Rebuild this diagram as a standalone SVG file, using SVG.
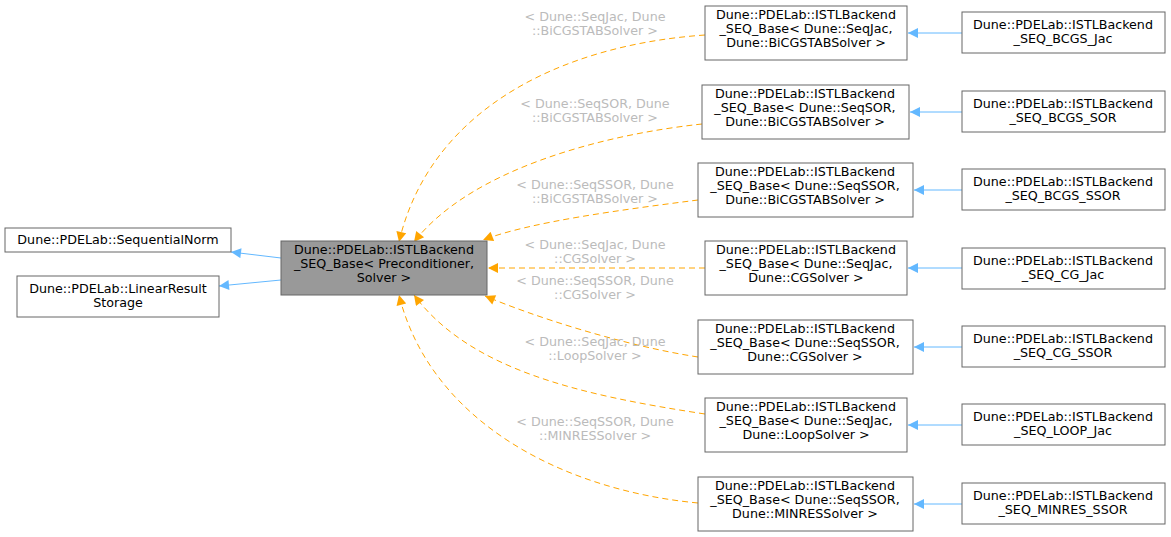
<svg xmlns="http://www.w3.org/2000/svg" width="1171" height="537" viewBox="0 0 1171 537">
<style>
text{font-family:"DejaVu Sans",sans-serif;font-size:12.7px;text-anchor:middle}
.n{fill:#fff;stroke:#666;stroke-width:1}
.c{fill:#999;stroke:#666}
.o{fill:none;stroke:#ffa500;stroke-dasharray:6,4}
.b{fill:none;stroke:#63b8ff}
.l{fill:#bbb}
</style>
<defs>
<marker id="ao" viewBox="0 0 10 10" refX="10" refY="5" markerWidth="12" markerHeight="10" markerUnits="userSpaceOnUse" orient="auto"><path d="M0,0L10,5L0,10z" fill="#ffa500"/></marker>
<marker id="ab" viewBox="0 0 10 10" refX="10" refY="5" markerWidth="12" markerHeight="10" markerUnits="userSpaceOnUse" orient="auto"><path d="M0,0L10,5L0,10z" fill="#63b8ff"/></marker>
</defs>
<rect width="1171" height="537" fill="#fff"/>
<g id="edges">
<path class="o" marker-end="url(#ao)" d="M705,35C560,45 430,110 399,242"/>
<path class="o" marker-end="url(#ao)" d="M702,124C600,135 470,170 414,242"/>
<path class="o" marker-end="url(#ao)" d="M698,200C620,210 530,222 483,240"/>
<path class="o" marker-end="url(#ao)" d="M705,268L488,268"/>
<path class="o" marker-end="url(#ao)" d="M698,357C620,345 530,315 485,296"/>
<path class="o" marker-end="url(#ao)" d="M705,414C580,395 470,370 414,295"/>
<path class="o" marker-end="url(#ao)" d="M698,503C560,490 430,420 399,295"/>
<path class="b" marker-end="url(#ab)" d="M281,258L231,252"/>
<path class="b" marker-end="url(#ab)" d="M281,280L219,286"/>
<path class="b" marker-end="url(#ab)" d="M962,33L908,33"/>
<path class="b" marker-end="url(#ab)" d="M962,112L910,112"/>
<path class="b" marker-end="url(#ab)" d="M962,190L914,190"/>
<path class="b" marker-end="url(#ab)" d="M962,268L908,268"/>
<path class="b" marker-end="url(#ab)" d="M962,347L914,347"/>
<path class="b" marker-end="url(#ab)" d="M962,425L908,425"/>
<path class="b" marker-end="url(#ab)" d="M962,504L914,504"/>
<text class="l" x="595" y="21">&lt; Dune::SeqJac, Dune</text><text class="l" x="595" y="35">::BiCGSTABSolver &gt;</text>
<text class="l" x="595" y="108">&lt; Dune::SeqSOR, Dune</text><text class="l" x="595" y="122">::BiCGSTABSolver &gt;</text>
<text class="l" x="595" y="189">&lt; Dune::SeqSSOR, Dune</text><text class="l" x="595" y="203">::BiCGSTABSolver &gt;</text>
<text class="l" x="595" y="249">&lt; Dune::SeqJac, Dune</text><text class="l" x="595" y="263">::CGSolver &gt;</text>
<text class="l" x="595" y="285">&lt; Dune::SeqSSOR, Dune</text><text class="l" x="595" y="299">::CGSolver &gt;</text>
<text class="l" x="595" y="346">&lt; Dune::SeqJac, Dune</text><text class="l" x="595" y="360">::LoopSolver &gt;</text>
<text class="l" x="595" y="426">&lt; Dune::SeqSSOR, Dune</text><text class="l" x="595" y="440">::MINRESSolver &gt;</text>
</g>
<g id="base"><rect class="c" x="281" y="241" width="206" height="54"/><text x="384" y="254">Dune::PDELab::ISTLBackend</text><text x="384" y="268">_SEQ_Base&lt; Preconditioner,</text><text x="384" y="282">Solver &gt;</text></g>
<g id="seqnorm"><rect class="n" x="5" y="228" width="226" height="24"/><text x="118" y="244">Dune::PDELab::SequentialNorm</text></g>
<g id="lrs"><rect class="n" x="17" y="276" width="202" height="41"/><text x="118" y="293">Dune::PDELab::LinearResult</text><text x="118" y="307">Storage</text></g>
<g id="m1"><rect class="n" x="705" y="6" width="202" height="54"/><text x="806" y="19">Dune::PDELab::ISTLBackend</text><text x="806" y="33">_SEQ_Base&lt; Dune::SeqJac,</text><text x="806" y="47">Dune::BiCGSTABSolver &gt;</text></g>
<g id="m2"><rect class="n" x="702" y="85" width="207" height="54"/><text x="805" y="98">Dune::PDELab::ISTLBackend</text><text x="805" y="112">_SEQ_Base&lt; Dune::SeqSOR,</text><text x="805" y="126">Dune::BiCGSTABSolver &gt;</text></g>
<g id="m3"><rect class="n" x="698" y="163" width="215" height="54"/><text x="805" y="176">Dune::PDELab::ISTLBackend</text><text x="805" y="190">_SEQ_Base&lt; Dune::SeqSSOR,</text><text x="805" y="204">Dune::BiCGSTABSolver &gt;</text></g>
<g id="m4"><rect class="n" x="705" y="241" width="202" height="54"/><text x="806" y="254">Dune::PDELab::ISTLBackend</text><text x="806" y="268">_SEQ_Base&lt; Dune::SeqJac,</text><text x="806" y="282">Dune::CGSolver &gt;</text></g>
<g id="m5"><rect class="n" x="698" y="320" width="215" height="54"/><text x="805" y="333">Dune::PDELab::ISTLBackend</text><text x="805" y="347">_SEQ_Base&lt; Dune::SeqSSOR,</text><text x="805" y="361">Dune::CGSolver &gt;</text></g>
<g id="m6"><rect class="n" x="705" y="398" width="202" height="54"/><text x="806" y="411">Dune::PDELab::ISTLBackend</text><text x="806" y="425">_SEQ_Base&lt; Dune::SeqJac,</text><text x="806" y="439">Dune::LoopSolver &gt;</text></g>
<g id="m7"><rect class="n" x="698" y="477" width="215" height="54"/><text x="805" y="490">Dune::PDELab::ISTLBackend</text><text x="805" y="504">_SEQ_Base&lt; Dune::SeqSSOR,</text><text x="805" y="518">Dune::MINRESSolver &gt;</text></g>
<g id="r1"><rect class="n" x="962" y="12" width="203" height="41"/><text x="1063" y="29">Dune::PDELab::ISTLBackend</text><text x="1063" y="43">_SEQ_BCGS_Jac</text></g>
<g id="r2"><rect class="n" x="962" y="91" width="203" height="41"/><text x="1063" y="108">Dune::PDELab::ISTLBackend</text><text x="1063" y="122">_SEQ_BCGS_SOR</text></g>
<g id="r3"><rect class="n" x="962" y="169" width="203" height="41"/><text x="1063" y="186">Dune::PDELab::ISTLBackend</text><text x="1063" y="200">_SEQ_BCGS_SSOR</text></g>
<g id="r4"><rect class="n" x="962" y="248" width="203" height="41"/><text x="1063" y="265">Dune::PDELab::ISTLBackend</text><text x="1063" y="279">_SEQ_CG_Jac</text></g>
<g id="r5"><rect class="n" x="962" y="326" width="203" height="41"/><text x="1063" y="343">Dune::PDELab::ISTLBackend</text><text x="1063" y="357">_SEQ_CG_SSOR</text></g>
<g id="r6"><rect class="n" x="962" y="404" width="203" height="41"/><text x="1063" y="421">Dune::PDELab::ISTLBackend</text><text x="1063" y="435">_SEQ_LOOP_Jac</text></g>
<g id="r7"><rect class="n" x="962" y="483" width="203" height="41"/><text x="1063" y="500">Dune::PDELab::ISTLBackend</text><text x="1063" y="514">_SEQ_MINRES_SSOR</text></g>
</svg>
